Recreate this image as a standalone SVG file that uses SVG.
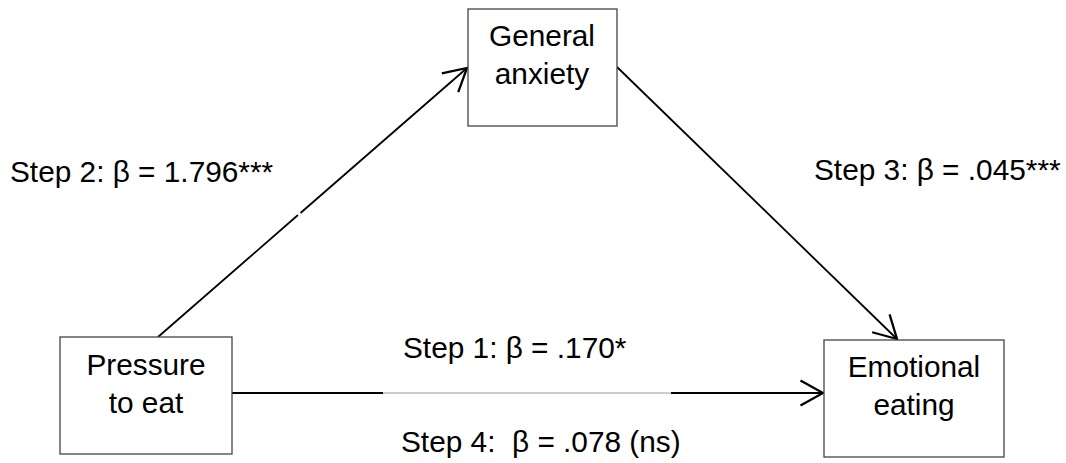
<svg xmlns="http://www.w3.org/2000/svg" width="1066" height="463" viewBox="0 0 1066 463">
  <style>
    .box { fill: #ffffff; stroke: #444444; stroke-width: 1.3; }
    .lbl { font-family: "Liberation Sans", Arial, sans-serif; font-size: 29.8px; fill: #000000; }
    .mid { text-anchor: middle; }
    .conn { stroke: #000000; stroke-width: 1.8; fill: none; }
    .faint { stroke: #9a9a9a; stroke-width: 1; fill: none; }
  </style>
  <defs>
    <marker id="arrow" markerUnits="userSpaceOnUse" markerWidth="30" markerHeight="30" viewBox="-20 -12 22 24" refX="0" refY="0" orient="auto" overflow="visible">
      <path d="M -18 -10 L 0 0 L -18 10" fill="none" stroke="#000000" stroke-width="1.8"/>
    </marker>
  </defs>
  <rect width="1066" height="463" fill="#ffffff"/>

  <g id="connectors">
    <line class="conn" x1="158" y1="337" x2="298" y2="215"/>
    <line class="conn" x1="300.5" y1="213" x2="467" y2="68" marker-end="url(#arrow)"/>
    <line class="conn" x1="617" y1="67" x2="897" y2="339" marker-end="url(#arrow)"/>
    <line class="conn" x1="232" y1="393" x2="383" y2="393"/>
    <line class="faint" x1="383" y1="393" x2="671" y2="393"/>
    <line class="conn" x1="671" y1="393" x2="823" y2="393" marker-end="url(#arrow)"/>
  </g>

  <g id="node-general-anxiety">
    <rect class="box" x="468" y="9" width="149" height="117"/>
    <text class="lbl mid" x="542" y="46">General</text>
    <text class="lbl mid" x="542" y="84">anxiety</text>
  </g>

  <g id="node-pressure-to-eat">
    <rect class="box" x="60" y="337" width="172" height="117"/>
    <text class="lbl mid" x="146" y="375">Pressure</text>
    <text class="lbl mid" x="146" y="413">to eat</text>
  </g>

  <g id="node-emotional-eating">
    <rect class="box" x="824" y="340" width="180" height="117"/>
    <text class="lbl mid" x="914" y="377">Emotional</text>
    <text class="lbl mid" x="914" y="415">eating</text>
  </g>

  <g id="labels">
    <text class="lbl" x="10" y="182">Step 2: β = 1.796***</text>
    <text class="lbl" x="814" y="180">Step 3: β = .045***</text>
    <text class="lbl" x="403" y="358">Step 1: β = .170*</text>
    <text class="lbl" x="401" y="452" xml:space="preserve">Step 4:  β = .078 (ns)</text>
  </g>
</svg>
